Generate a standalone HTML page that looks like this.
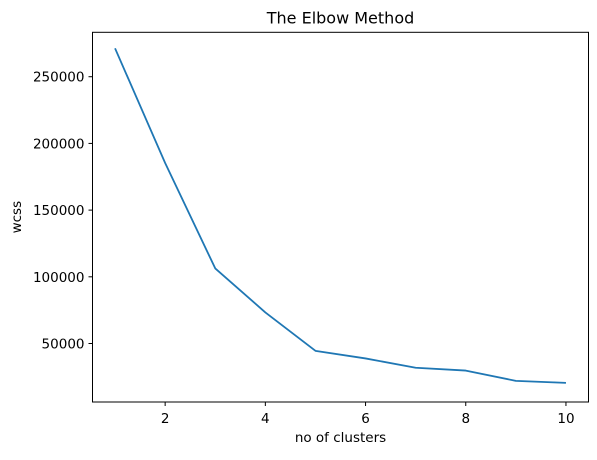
<!DOCTYPE html>
<html><head><meta charset="utf-8"><style>
body{margin:0;background:#fff}
text{font-family:"DejaVu Sans","Liberation Sans",sans-serif;fill:#000}
</style></head><body>
<svg id="c" width="597" height="455"></svg>
<script>
const clusters=[1,2,3,4,5,6,7,8,9,10];
const wcss=[271300,185300,106300,73300,44500,38800,31800,29700,22000,20500];
const xTicks=[2,4,6,8,10];
const yTicks=[50000,100000,150000,200000,250000];
const L=92.5,R=588.5,T=32.3,B=402;
const xMin=0.55,xMax=10.45,yMin=6150,yMax=283300;
const sx=v=>L+(v-xMin)/(xMax-xMin)*(R-L);
const sy=v=>B-(v-yMin)/(yMax-yMin)*(B-T);
const svg=document.getElementById('c');
const NS='http://www.w3.org/2000/svg';
function mk(t,a){const e=document.createElementNS(NS,t);for(const k in a)e.setAttribute(k,a[k]);svg.appendChild(e);return e;}
const ax=mk('rect',{x:L,y:T,width:R-L,height:B-T,fill:'none',stroke:'#000','stroke-width':1});


xTicks.forEach(v=>{
 const l=mk('line',{x1:sx(v),x2:sx(v),y1:B,y2:B+4,stroke:'#000'});
 
 
 const t=mk('text',{x:sx(v),y:B+21,'text-anchor':'middle','font-size':13.5});t.textContent=v;
 
 
});
yTicks.forEach(v=>{
 const l=mk('line',{x1:L-4,x2:L,y1:sy(v),y2:sy(v),stroke:'#000'});
 
 
 const t=mk('text',{x:L-8,y:sy(v)+5,'text-anchor':'end','font-size':13.5});t.textContent=v;
 
 
});
const p=mk('polyline',{points:clusters.map((c,i)=>sx(c)+','+sy(wcss[i])).join(' '),fill:'none',stroke:'#1f77b4','stroke-width':1.8,'stroke-linejoin':'round'});


const ti=mk('text',{x:(L+R)/2,y:T-9,'text-anchor':'middle','font-size':16});ti.textContent='The Elbow Method';


const xl=mk('text',{x:(L+R)/2,y:442,'text-anchor':'middle','font-size':13.5});xl.textContent='no of clusters';


const yl=mk('text',{x:0,y:0,'text-anchor':'middle','font-size':13.5,transform:'translate(21,'+((T+B)/2)+') rotate(-90)'});yl.textContent='wcss';


</script>
</body></html>
